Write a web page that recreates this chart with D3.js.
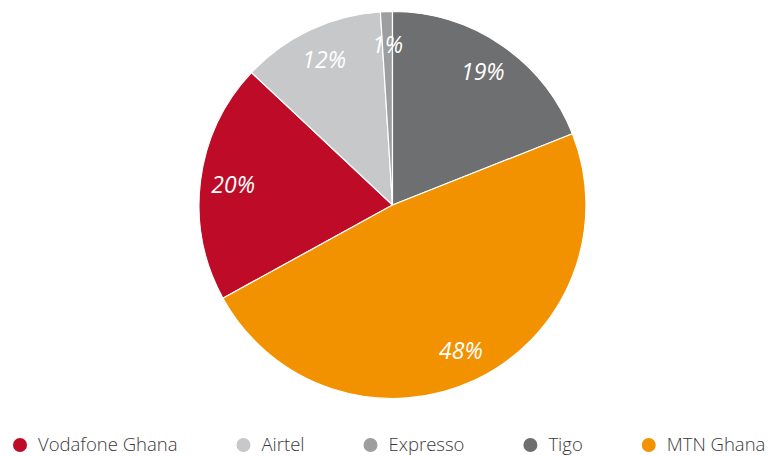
<!DOCTYPE html>
<html>
<head>
<meta charset="utf-8">
<script src="https://cdn.jsdelivr.net/npm/d3@7"></script>
<style>
  html, body { margin: 0; padding: 0; background: #fff; }
  svg { display: block; }
</style>
</head>
<body>
<svg id="chart" width="782" height="456"></svg>
<script>
// Data (legend order)
const categories = ["Vodafone Ghana", "Airtel", "Expresso", "Tigo", "MTN Ghana"];
const values = [20, 12, 1, 19, 48];
const colors = ["#BE0B27", "#C7C8CA", "#9D9EA0", "#6E6F71", "#F39200"];
const labels = ["20%", "12%", "1%", "19%", "48%"];

const svg = d3.select("#chart");
const cx = 392.5, cy = 205, r = 193.5;

const data = categories.map((c, i) => ({ name: c, value: values[i], color: colors[i], label: labels[i] }));

// Tigo starts at 12 o'clock; preceding slices (Vodafone, Airtel, Expresso) sum to the angle before it
const total = d3.sum(values);
const before = d3.sum(values.slice(0, 3));
const offset = -2 * Math.PI * before / total;

const pie = d3.pie().sort(null).value(d => d.value)
  .startAngle(offset).endAngle(offset + 2 * Math.PI);
const arc = d3.arc().innerRadius(0).outerRadius(r);
const labelArc = d3.arc().innerRadius(r * 0.83).outerRadius(r * 0.83);

const g = svg.append("g").attr("transform", `translate(${cx},${cy})`);
const arcs = pie(data);

g.selectAll("path").data(arcs).join("path")
  .attr("d", arc)
  .attr("fill", d => d.data.color)
  .attr("stroke", "#fff")
  .attr("stroke-width", 1.2)
  .attr("stroke-linejoin", "miter");

g.selectAll("text").data(arcs).join("text")
  .attr("transform", d => `translate(${labelArc.centroid(d)})`)
  .attr("text-anchor", "middle")
  .attr("dy", "0.36em")
  .attr("fill", "#fff")
  .attr("font-family", "'Open Sans', sans-serif")
  .attr("font-style", "italic")
  .attr("font-weight", 400)
  .attr("font-size", 23)
  .text(d => d.data.label);

// Legend: flow layout
const legend = svg.append("g").attr("transform", "translate(20,445)");
let x = 0;
data.forEach(d => {
  const item = legend.append("g").attr("transform", `translate(${x},0)`);
  item.append("circle").attr("cx", 0).attr("cy", 0).attr("r", 7).attr("fill", d.color);
  const t = item.append("text")
    .attr("x", 18).attr("y", 0).attr("dy", "0.34em")
    .attr("fill", "#3a3a3a")
    .attr("font-family", "'Open Sans', sans-serif")
    .attr("font-weight", 300)
    .attr("font-size", 18.5)
    .text(d.name);
  const w = t.node().getComputedTextLength();
  x += 18 + w + 66;
});
</script>
</body>
</html>
